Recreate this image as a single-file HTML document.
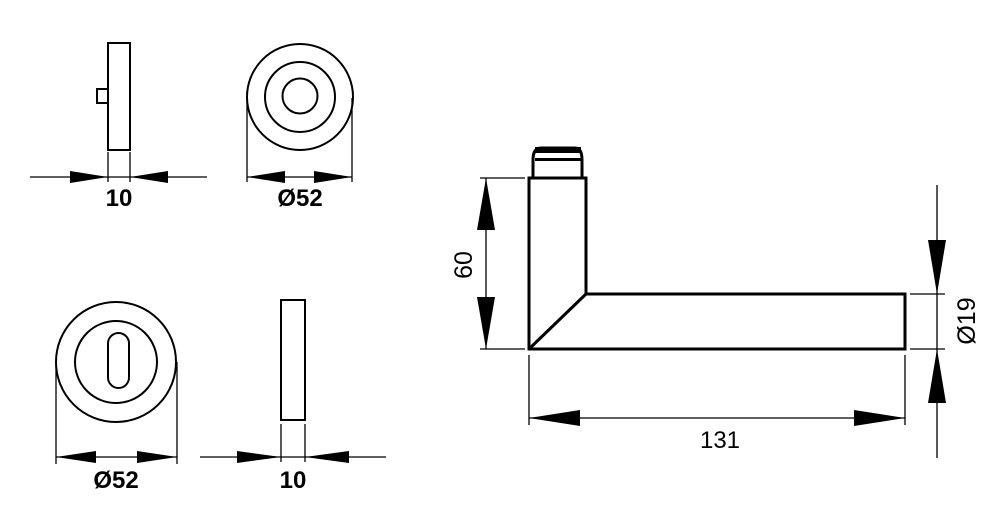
<!DOCTYPE html>
<html><head><style>body{margin:0;background:#fff}svg{display:block}</style></head><body>
<svg width="1000" height="532" viewBox="0 0 1000 532" xmlns="http://www.w3.org/2000/svg" font-family="Liberation Sans, sans-serif">
<g fill="none" stroke="#000" stroke-width="2">
<rect x="108" y="43" width="22" height="107"/>
<rect x="97" y="89" width="11" height="14"/>
</g>
<g stroke="#000" stroke-width="1.3" fill="none">
<line x1="108" y1="152" x2="108" y2="182"/><line x1="130" y1="152" x2="130" y2="182"/>
<line x1="30" y1="177" x2="207" y2="177"/>
<line x1="247" y1="98" x2="247" y2="182"/><line x1="352" y1="98" x2="352" y2="182"/>
<line x1="247" y1="177" x2="352" y2="177"/>
<line x1="56" y1="362" x2="56" y2="464"/><line x1="177" y1="362" x2="177" y2="464"/>
<line x1="56" y1="457" x2="177" y2="457"/>
<line x1="281" y1="424" x2="281" y2="462"/><line x1="305" y1="424" x2="305" y2="462"/>
<line x1="200" y1="457" x2="386" y2="457"/>
<line x1="480" y1="178" x2="525" y2="178"/><line x1="480" y1="349" x2="525" y2="349"/>
<line x1="486" y1="178" x2="486" y2="349"/>
<line x1="529" y1="355" x2="529" y2="425"/><line x1="905" y1="355" x2="905" y2="425"/>
<line x1="529" y1="418" x2="905" y2="418"/>
<line x1="910" y1="294" x2="945" y2="294"/><line x1="910" y1="349" x2="945" y2="349"/>
<line x1="937" y1="185" x2="937" y2="458"/>
</g>
<g fill="none" stroke="#000" stroke-width="2">
<circle cx="300" cy="97" r="53"/><circle cx="300" cy="97" r="35"/><circle cx="300" cy="96" r="17.5"/>
<circle cx="116" cy="362" r="60"/><circle cx="116" cy="362" r="41"/>
<rect x="108" y="333" width="21" height="55" rx="10.5"/>
<rect x="281" y="300" width="24" height="120"/>
</g>
<g fill="none" stroke="#000" stroke-width="3">
<path d="M529 178 H586 V294 H905 V349 H529 Z"/>
<line x1="529" y1="349" x2="586" y2="294"/>
<path d="M533 178 V160 Q533 148 541 148 H575 Q582 148 582 160 V178"/>
</g>
<rect x="535" y="147" width="46" height="6" fill="#000"/>
<rect x="535" y="158" width="46" height="3" fill="#000"/>
<g fill="#000">
<polygon points="70,171 108,177 70,183"/><polygon points="168,171 130,177 168,183"/>
<polygon points="285,171 247,177 285,183"/><polygon points="314,171 352,177 314,183"/>
<polygon points="96,451 56,457 96,463"/><polygon points="137,451 177,457 137,463"/>
<polygon points="237,451 281,457 237,463"/><polygon points="349,451 305,457 349,463"/>
<polygon points="477,230 486,178 495,230"/><polygon points="477,297 486,349 495,297"/>
<polygon points="580,410 529,418 580,426"/><polygon points="854,410 905,418 854,426"/>
<polygon points="928,240 937,294 946,240"/><polygon points="928,403 937,349 946,403"/>
</g>
<g font-size="24" font-weight="bold" text-anchor="middle">
<text x="119" y="206">10</text><text x="300" y="206">Ø52</text>
<text x="116" y="488">Ø52</text><text x="293" y="488">10</text>
</g>
<g font-size="25" text-anchor="middle">
<text x="720" y="448" font-size="24">131</text>
<text transform="translate(472,265) rotate(-90)">60</text>
<text transform="translate(975,321) rotate(-90)">Ø19</text>
</g>
</svg>
</body></html>
